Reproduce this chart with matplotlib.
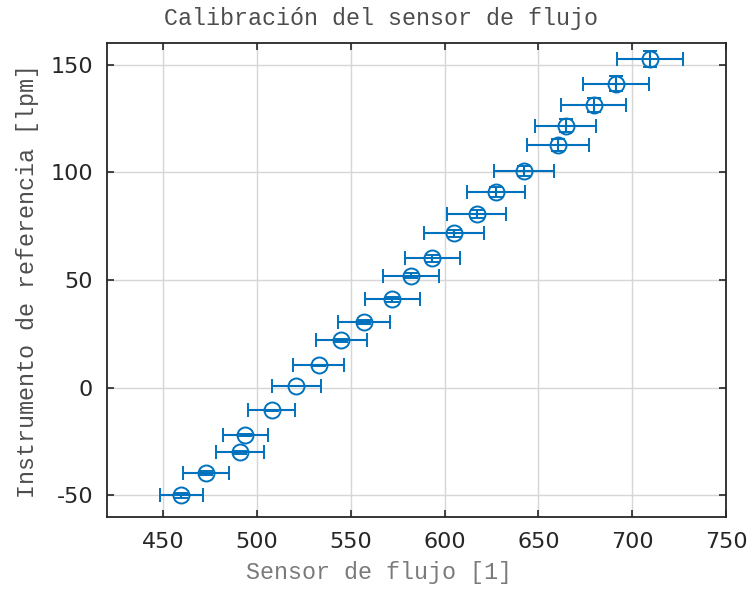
import matplotlib
matplotlib.use("Agg")
import matplotlib.pyplot as plt

# Data
sensor = [459.7, 472.7, 490.9, 493.8, 507.8, 520.9, 532.8, 545.0, 556.9, 572.0, 582.0,
          593.5, 605.0, 617.1, 627.2, 642.3, 660.6, 664.5, 679.4, 691.4, 709.7]
referencia = [-50.0, -39.5, -30.0, -22.0, -10.5, 0.6, 10.4, 22.0, 30.5, 41.0, 52.0,
              60.0, 71.6, 80.6, 90.7, 100.6, 112.7, 121.7, 131.3, 141.0, 152.7]
err_sensor = [11.5, 12.1, 12.7, 12.1, 12.6, 13.0, 13.7, 13.6, 14.0, 14.6, 14.8,
              14.5, 16.1, 15.7, 15.4, 16.1, 16.6, 16.3, 17.1, 17.5, 17.6]
err_ref = [1.3, 1.0, 0.8, 0.6, 0.3, 0.0, 0.3, 0.6, 0.8, 1.0, 1.3,
           1.5, 1.8, 2.0, 2.3, 2.5, 2.8, 3.0, 3.3, 3.5, 3.8]

xticks = [450, 500, 550, 600, 650, 700, 750]
yticks = [-50, 0, 50, 100, 150]
xtick_labels = ["450", "500", "550", "600", "650", "700", "750"]
ytick_labels = ["-50", "0", "50", "100", "150"]

title = "Calibración del sensor de flujo"
xlabel = "Sensor de flujo [1]"
ylabel = "Instrumento de referencia [lpm]"

blue = "#0072BD"

fig = plt.figure(figsize=(7.51, 5.89), dpi=100)
ax = fig.add_axes([107 / 751, 1 - 517 / 589, (726 - 107) / 751, (517 - 43) / 589])

ax.errorbar(sensor, referencia, xerr=err_sensor, yerr=err_ref, fmt="o",
            color=blue, mfc="none", mec=blue, ms=11.5, mew=1.4,
            elinewidth=1.5, capsize=5, capthick=1.5, zorder=3)

ax.set_xlim(420, 750)
ax.set_ylim(-60, 160)
ax.set_xticks(xticks)
ax.set_xticklabels(xtick_labels)
ax.set_yticks(yticks)
ax.set_yticklabels(ytick_labels)

ax.grid(True, color="#d6d6d6", linewidth=1.0, zorder=0)
ax.set_axisbelow(True)

for s in ax.spines.values():
    s.set_color("#262626")
    s.set_linewidth(1.3)

ax.tick_params(axis="both", which="both", direction="in", length=5, width=1.2,
               color="#262626", top=True, right=True, labelsize=16,
               labelcolor="#262626")
ax.tick_params(axis="x", pad=11)
ax.tick_params(axis="y", pad=10)
for lab in ax.get_xticklabels() + ax.get_yticklabels():
    lab.set_fontfamily("DejaVu Sans")

mono = "Liberation Mono"
fig.text(381.5 / 751, 1 - 18 / 589, title, ha="center", va="center",
         fontsize=16.8, family=mono, color="#4d4d4d")
fig.text(379 / 751, 1 - 572 / 589, xlabel, ha="center", va="center",
         fontsize=16.8, family=mono, color="#7a7a7a")
fig.text(28 / 751, 1 - 281 / 589, ylabel, ha="center", va="center",
         rotation=90, fontsize=16.8, family=mono, color="#4d4d4d")

fig.savefig("out.png", dpi=100)
